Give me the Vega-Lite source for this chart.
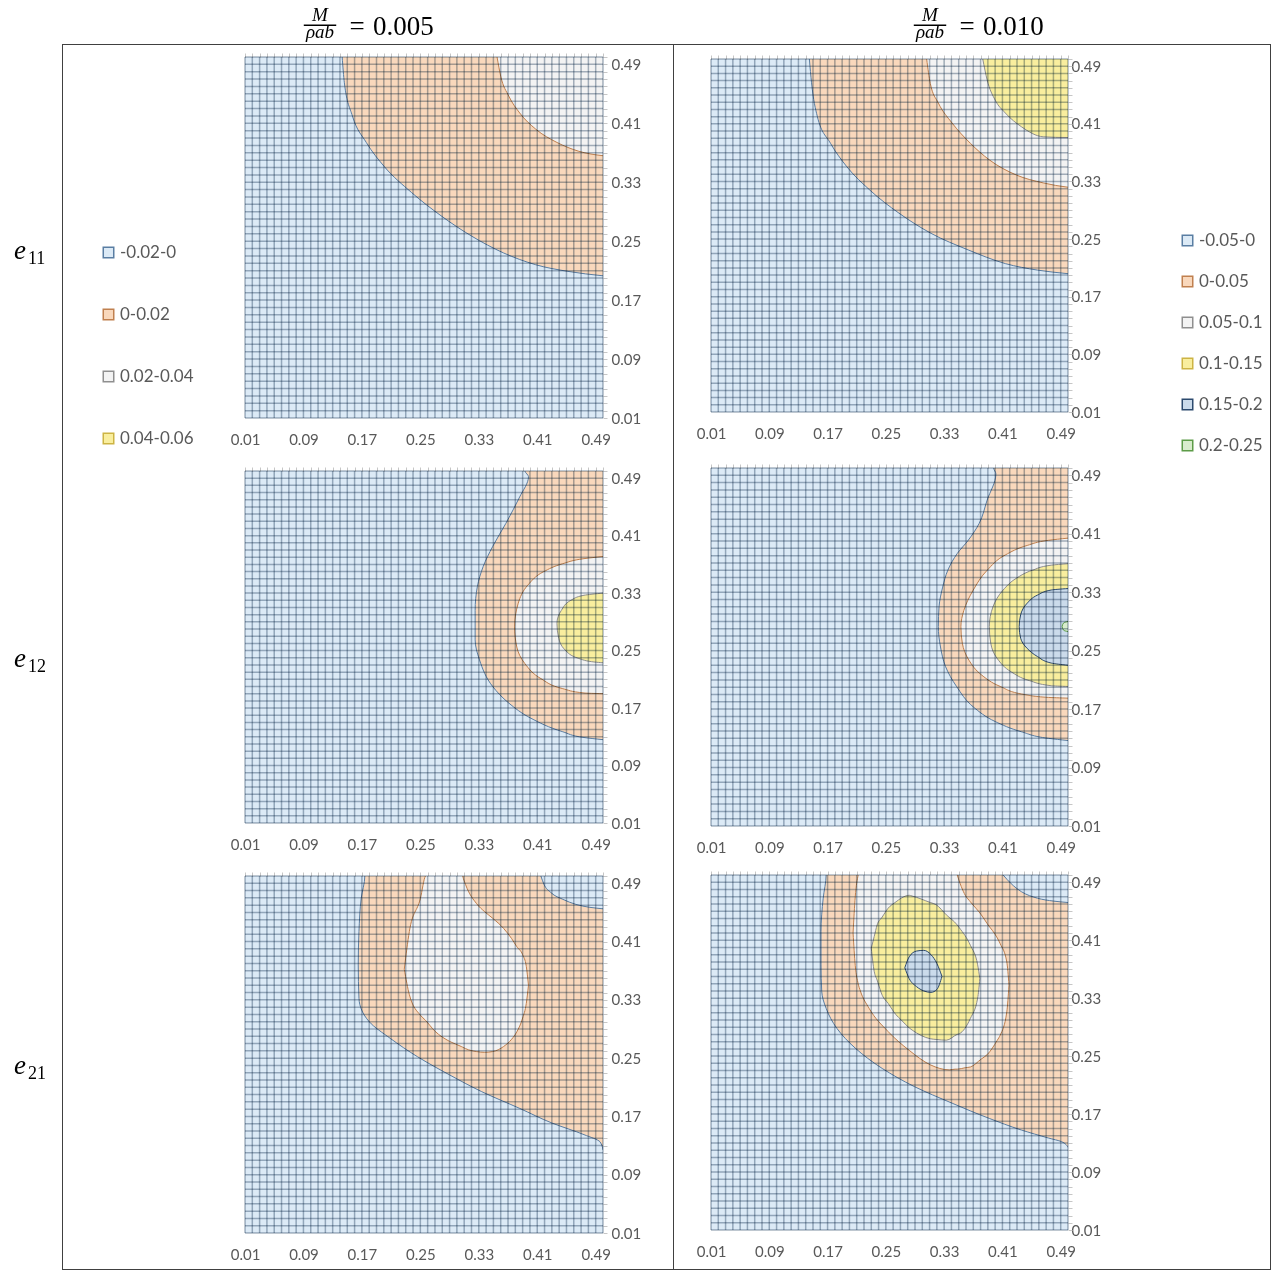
{
"$schema":"https://vega.github.io/schema/vega-lite/v6.json",
"background":"white",
"padding":0,
"config":{
 "view":{"stroke":null},
 "font":"Lato",
 "axis":{"labelFont":"Lato","labelFontSize":15,"labelColor":"#595959","domain":false,"grid":false,"ticks":false,"labelFlush":false,"labelOverlap":false},
 "legend":{"symbolType":"square","symbolSize":110,"symbolStrokeWidth":1.5,"labelFontSize":17,"labelColor":"#595959","labelFont":"Lato","labelOffset":3,"padding":0}
},
"datasets":{
"g":[{"g":0.01},{"g":0.02},{"g":0.03},{"g":0.04},{"g":0.05},{"g":0.06},{"g":0.07},{"g":0.08},{"g":0.09},{"g":0.1},{"g":0.11},{"g":0.12},{"g":0.13},{"g":0.14},{"g":0.15},{"g":0.16},{"g":0.17},{"g":0.18},{"g":0.19},{"g":0.2},{"g":0.21},{"g":0.22},{"g":0.23},{"g":0.24},{"g":0.25},{"g":0.26},{"g":0.27},{"g":0.28},{"g":0.29},{"g":0.3},{"g":0.31},{"g":0.32},{"g":0.33},{"g":0.34},{"g":0.35},{"g":0.36},{"g":0.37},{"g":0.38},{"g":0.39},{"g":0.4},{"g":0.41},{"g":0.42},{"g":0.43},{"g":0.44},{"g":0.45},{"g":0.46},{"g":0.47},{"g":0.48},{"g":0.49},{"g":0.5}],
"c":[
{"p":"L1","s":1,"l":"0-0.02","c":"-0.02-0","x":0.143,"y":0.5,"y2":0.51},
{"p":"L1","s":1,"l":"0-0.02","c":"-0.02-0","x":0.146,"y":0.465,"y2":0.51},
{"p":"L1","s":1,"l":"0-0.02","c":"-0.02-0","x":0.157,"y":0.42,"y2":0.51},
{"p":"L1","s":1,"l":"0-0.02","c":"-0.02-0","x":0.176,"y":0.384,"y2":0.51},
{"p":"L1","s":1,"l":"0-0.02","c":"-0.02-0","x":0.2,"y":0.352,"y2":0.51},
{"p":"L1","s":1,"l":"0-0.02","c":"-0.02-0","x":0.238,"y":0.316,"y2":0.51},
{"p":"L1","s":1,"l":"0-0.02","c":"-0.02-0","x":0.279,"y":0.284,"y2":0.51},
{"p":"L1","s":1,"l":"0-0.02","c":"-0.02-0","x":0.32,"y":0.257,"y2":0.51},
{"p":"L1","s":1,"l":"0-0.02","c":"-0.02-0","x":0.364,"y":0.234,"y2":0.51},
{"p":"L1","s":1,"l":"0-0.02","c":"-0.02-0","x":0.408,"y":0.218,"y2":0.51},
{"p":"L1","s":1,"l":"0-0.02","c":"-0.02-0","x":0.452,"y":0.209,"y2":0.51},
{"p":"L1","s":1,"l":"0-0.02","c":"-0.02-0","x":0.5,"y":0.203,"y2":0.51},
{"p":"L1","s":1,"l":"0-0.02","c":"-0.02-0","x":0.51,"y":0.202,"y2":0.51},
{"p":"L1","s":2,"l":"0.02-0.04","c":"0-0.02","x":0.355,"y":0.5,"y2":0.51},
{"p":"L1","s":2,"l":"0.02-0.04","c":"0-0.02","x":0.36,"y":0.474,"y2":0.51},
{"p":"L1","s":2,"l":"0.02-0.04","c":"0-0.02","x":0.371,"y":0.447,"y2":0.51},
{"p":"L1","s":2,"l":"0.02-0.04","c":"0-0.02","x":0.386,"y":0.424,"y2":0.51},
{"p":"L1","s":2,"l":"0.02-0.04","c":"0-0.02","x":0.408,"y":0.402,"y2":0.51},
{"p":"L1","s":2,"l":"0.02-0.04","c":"0-0.02","x":0.437,"y":0.384,"y2":0.51},
{"p":"L1","s":2,"l":"0.02-0.04","c":"0-0.02","x":0.467,"y":0.372,"y2":0.51},
{"p":"L1","s":2,"l":"0.02-0.04","c":"0-0.02","x":0.5,"y":0.366,"y2":0.51},
{"p":"L1","s":2,"l":"0.02-0.04","c":"0-0.02","x":0.51,"y":0.365,"y2":0.51},

{"p":"R1","s":1,"l":"0-0.05","c":"-0.05-0","x":0.145,"y":0.5,"y2":0.51},
{"p":"R1","s":1,"l":"0-0.05","c":"-0.05-0","x":0.148,"y":0.467,"y2":0.51},
{"p":"R1","s":1,"l":"0-0.05","c":"-0.05-0","x":0.156,"y":0.42,"y2":0.51},
{"p":"R1","s":1,"l":"0-0.05","c":"-0.05-0","x":0.174,"y":0.383,"y2":0.51},
{"p":"R1","s":1,"l":"0-0.05","c":"-0.05-0","x":0.196,"y":0.351,"y2":0.51},
{"p":"R1","s":1,"l":"0-0.05","c":"-0.05-0","x":0.228,"y":0.318,"y2":0.51},
{"p":"R1","s":1,"l":"0-0.05","c":"-0.05-0","x":0.268,"y":0.286,"y2":0.51},
{"p":"R1","s":1,"l":"0-0.05","c":"-0.05-0","x":0.312,"y":0.258,"y2":0.51},
{"p":"R1","s":1,"l":"0-0.05","c":"-0.05-0","x":0.363,"y":0.235,"y2":0.51},
{"p":"R1","s":1,"l":"0-0.05","c":"-0.05-0","x":0.414,"y":0.216,"y2":0.51},
{"p":"R1","s":1,"l":"0-0.05","c":"-0.05-0","x":0.458,"y":0.207,"y2":0.51},
{"p":"R1","s":1,"l":"0-0.05","c":"-0.05-0","x":0.5,"y":0.202,"y2":0.51},
{"p":"R1","s":1,"l":"0-0.05","c":"-0.05-0","x":0.51,"y":0.201,"y2":0.51},
{"p":"R1","s":2,"l":"0.05-0.1","c":"0-0.05","x":0.306,"y":0.5,"y2":0.51},
{"p":"R1","s":2,"l":"0.05-0.1","c":"0-0.05","x":0.311,"y":0.466,"y2":0.51},
{"p":"R1","s":2,"l":"0.05-0.1","c":"0-0.05","x":0.322,"y":0.439,"y2":0.51},
{"p":"R1","s":2,"l":"0.05-0.1","c":"0-0.05","x":0.341,"y":0.411,"y2":0.51},
{"p":"R1","s":2,"l":"0.05-0.1","c":"0-0.05","x":0.366,"y":0.383,"y2":0.51},
{"p":"R1","s":2,"l":"0.05-0.1","c":"0-0.05","x":0.392,"y":0.36,"y2":0.51},
{"p":"R1","s":2,"l":"0.05-0.1","c":"0-0.05","x":0.429,"y":0.339,"y2":0.51},
{"p":"R1","s":2,"l":"0.05-0.1","c":"0-0.05","x":0.466,"y":0.328,"y2":0.51},
{"p":"R1","s":2,"l":"0.05-0.1","c":"0-0.05","x":0.5,"y":0.322,"y2":0.51},
{"p":"R1","s":2,"l":"0.05-0.1","c":"0-0.05","x":0.51,"y":0.321,"y2":0.51},
{"p":"R1","s":3,"l":"0.1-0.15","c":"0.05-0.1","x":0.383,"y":0.5,"y2":0.51},
{"p":"R1","s":3,"l":"0.1-0.15","c":"0.05-0.1","x":0.389,"y":0.471,"y2":0.51},
{"p":"R1","s":3,"l":"0.1-0.15","c":"0.05-0.1","x":0.4,"y":0.443,"y2":0.51},
{"p":"R1","s":3,"l":"0.1-0.15","c":"0.05-0.1","x":0.414,"y":0.425,"y2":0.51},
{"p":"R1","s":3,"l":"0.1-0.15","c":"0.05-0.1","x":0.436,"y":0.406,"y2":0.51},
{"p":"R1","s":3,"l":"0.1-0.15","c":"0.05-0.1","x":0.466,"y":0.392,"y2":0.51},
{"p":"R1","s":3,"l":"0.1-0.15","c":"0.05-0.1","x":0.5,"y":0.391,"y2":0.51},
{"p":"R1","s":3,"l":"0.1-0.15","c":"0.05-0.1","x":0.51,"y":0.391,"y2":0.51},

{"p":"L2","s":1,"l":"0-0.02","c":"-0.02-0","y":0.126,"x":0.5,"x2":0.51},
{"p":"L2","s":1,"l":"0-0.02","c":"-0.02-0","y":0.129,"x":0.474,"x2":0.51},
{"p":"L2","s":1,"l":"0-0.02","c":"-0.02-0","y":0.137,"x":0.445,"x2":0.51},
{"p":"L2","s":1,"l":"0-0.02","c":"-0.02-0","y":0.156,"x":0.401,"x2":0.51},
{"p":"L2","s":1,"l":"0-0.02","c":"-0.02-0","y":0.177,"x":0.371,"x2":0.51},
{"p":"L2","s":1,"l":"0-0.02","c":"-0.02-0","y":0.2,"x":0.349,"x2":0.51},
{"p":"L2","s":1,"l":"0-0.02","c":"-0.02-0","y":0.237,"x":0.331,"x2":0.51},
{"p":"L2","s":1,"l":"0-0.02","c":"-0.02-0","y":0.265,"x":0.325,"x2":0.51},
{"p":"L2","s":1,"l":"0-0.02","c":"-0.02-0","y":0.306,"x":0.325,"x2":0.51},
{"p":"L2","s":1,"l":"0-0.02","c":"-0.02-0","y":0.339,"x":0.328,"x2":0.51},
{"p":"L2","s":1,"l":"0-0.02","c":"-0.02-0","y":0.367,"x":0.336,"x2":0.51},
{"p":"L2","s":1,"l":"0-0.02","c":"-0.02-0","y":0.395,"x":0.349,"x2":0.51},
{"p":"L2","s":1,"l":"0-0.02","c":"-0.02-0","y":0.427,"x":0.367,"x2":0.51},
{"p":"L2","s":1,"l":"0-0.02","c":"-0.02-0","y":0.446,"x":0.377,"x2":0.51},
{"p":"L2","s":1,"l":"0-0.02","c":"-0.02-0","y":0.464,"x":0.386,"x2":0.51},
{"p":"L2","s":1,"l":"0-0.02","c":"-0.02-0","y":0.492,"x":0.398,"x2":0.51},
{"p":"L2","s":1,"l":"0-0.02","c":"-0.02-0","y":0.5,"x":0.393,"x2":0.51},
{"p":"L2","s":1,"l":"0-0.02","c":"-0.02-0","y":0.51,"x":0.392,"x2":0.51},
{"p":"L2","s":2,"l":"0.02-0.04","c":"0-0.02","y":0.19,"x":0.5,"x2":0.51},
{"p":"L2","s":2,"l":"0.02-0.04","c":"0-0.02","y":0.191,"x":0.474,"x2":0.51},
{"p":"L2","s":2,"l":"0.02-0.04","c":"0-0.02","y":0.197,"x":0.445,"x2":0.51},
{"p":"L2","s":2,"l":"0.02-0.04","c":"0-0.02","y":0.211,"x":0.415,"x2":0.51},
{"p":"L2","s":2,"l":"0.02-0.04","c":"0-0.02","y":0.232,"x":0.393,"x2":0.51},
{"p":"L2","s":2,"l":"0.02-0.04","c":"0-0.02","y":0.255,"x":0.382,"x2":0.51},
{"p":"L2","s":2,"l":"0.02-0.04","c":"0-0.02","y":0.283,"x":0.379,"x2":0.51},
{"p":"L2","s":2,"l":"0.02-0.04","c":"0-0.02","y":0.316,"x":0.384,"x2":0.51},
{"p":"L2","s":2,"l":"0.02-0.04","c":"0-0.02","y":0.341,"x":0.397,"x2":0.51},
{"p":"L2","s":2,"l":"0.02-0.04","c":"0-0.02","y":0.36,"x":0.419,"x2":0.51},
{"p":"L2","s":2,"l":"0.02-0.04","c":"0-0.02","y":0.371,"x":0.445,"x2":0.51},
{"p":"L2","s":2,"l":"0.02-0.04","c":"0-0.02","y":0.378,"x":0.474,"x2":0.51},
{"p":"L2","s":2,"l":"0.02-0.04","c":"0-0.02","y":0.381,"x":0.5,"x2":0.51},
{"p":"L2","s":3,"l":"0.04-0.06","c":"0.02-0.04","y":0.233,"x":0.5,"x2":0.51},
{"p":"L2","s":3,"l":"0.04-0.06","c":"0.02-0.04","y":0.234,"x":0.489,"x2":0.51},
{"p":"L2","s":3,"l":"0.04-0.06","c":"0.02-0.04","y":0.239,"x":0.467,"x2":0.51},
{"p":"L2","s":3,"l":"0.04-0.06","c":"0.02-0.04","y":0.251,"x":0.448,"x2":0.51},
{"p":"L2","s":3,"l":"0.04-0.06","c":"0.02-0.04","y":0.269,"x":0.439,"x2":0.51},
{"p":"L2","s":3,"l":"0.04-0.06","c":"0.02-0.04","y":0.288,"x":0.437,"x2":0.51},
{"p":"L2","s":3,"l":"0.04-0.06","c":"0.02-0.04","y":0.306,"x":0.443,"x2":0.51},
{"p":"L2","s":3,"l":"0.04-0.06","c":"0.02-0.04","y":0.32,"x":0.456,"x2":0.51},
{"p":"L2","s":3,"l":"0.04-0.06","c":"0.02-0.04","y":0.327,"x":0.474,"x2":0.51},
{"p":"L2","s":3,"l":"0.04-0.06","c":"0.02-0.04","y":0.33,"x":0.5,"x2":0.51},

{"p":"R2","s":1,"l":"0-0.05","c":"-0.05-0","y":0.127,"x":0.5,"x2":0.51},
{"p":"R2","s":1,"l":"0-0.05","c":"-0.05-0","y":0.13,"x":0.473,"x2":0.51},
{"p":"R2","s":1,"l":"0-0.05","c":"-0.05-0","y":0.139,"x":0.436,"x2":0.51},
{"p":"R2","s":1,"l":"0-0.05","c":"-0.05-0","y":0.153,"x":0.4,"x2":0.51},
{"p":"R2","s":1,"l":"0-0.05","c":"-0.05-0","y":0.173,"x":0.37,"x2":0.51},
{"p":"R2","s":1,"l":"0-0.05","c":"-0.05-0","y":0.201,"x":0.347,"x2":0.51},
{"p":"R2","s":1,"l":"0-0.05","c":"-0.05-0","y":0.228,"x":0.332,"x2":0.51},
{"p":"R2","s":1,"l":"0-0.05","c":"-0.05-0","y":0.255,"x":0.325,"x2":0.51},
{"p":"R2","s":1,"l":"0-0.05","c":"-0.05-0","y":0.283,"x":0.322,"x2":0.51},
{"p":"R2","s":1,"l":"0-0.05","c":"-0.05-0","y":0.31,"x":0.323,"x2":0.51},
{"p":"R2","s":1,"l":"0-0.05","c":"-0.05-0","y":0.337,"x":0.328,"x2":0.51},
{"p":"R2","s":1,"l":"0-0.05","c":"-0.05-0","y":0.36,"x":0.335,"x2":0.51},
{"p":"R2","s":1,"l":"0-0.05","c":"-0.05-0","y":0.383,"x":0.348,"x2":0.51},
{"p":"R2","s":1,"l":"0-0.05","c":"-0.05-0","y":0.401,"x":0.363,"x2":0.51},
{"p":"R2","s":1,"l":"0-0.05","c":"-0.05-0","y":0.424,"x":0.378,"x2":0.51},
{"p":"R2","s":1,"l":"0-0.05","c":"-0.05-0","y":0.456,"x":0.389,"x2":0.51},
{"p":"R2","s":1,"l":"0-0.05","c":"-0.05-0","y":0.492,"x":0.401,"x2":0.51},
{"p":"R2","s":1,"l":"0-0.05","c":"-0.05-0","y":0.5,"x":0.398,"x2":0.51},
{"p":"R2","s":1,"l":"0-0.05","c":"-0.05-0","y":0.51,"x":0.398,"x2":0.51},
{"p":"R2","s":2,"l":"0.05-0.1","c":"0-0.05","y":0.185,"x":0.5,"x2":0.51},
{"p":"R2","s":2,"l":"0.05-0.1","c":"0-0.05","y":0.186,"x":0.473,"x2":0.51},
{"p":"R2","s":2,"l":"0.05-0.1","c":"0-0.05","y":0.19,"x":0.44,"x2":0.51},
{"p":"R2","s":2,"l":"0.05-0.1","c":"0-0.05","y":0.201,"x":0.407,"x2":0.51},
{"p":"R2","s":2,"l":"0.05-0.1","c":"0-0.05","y":0.217,"x":0.381,"x2":0.51},
{"p":"R2","s":2,"l":"0.05-0.1","c":"0-0.05","y":0.237,"x":0.364,"x2":0.51},
{"p":"R2","s":2,"l":"0.05-0.1","c":"0-0.05","y":0.26,"x":0.355,"x2":0.51},
{"p":"R2","s":2,"l":"0.05-0.1","c":"0-0.05","y":0.283,"x":0.353,"x2":0.51},
{"p":"R2","s":2,"l":"0.05-0.1","c":"0-0.05","y":0.305,"x":0.357,"x2":0.51},
{"p":"R2","s":2,"l":"0.05-0.1","c":"0-0.05","y":0.333,"x":0.37,"x2":0.51},
{"p":"R2","s":2,"l":"0.05-0.1","c":"0-0.05","y":0.36,"x":0.389,"x2":0.51},
{"p":"R2","s":2,"l":"0.05-0.1","c":"0-0.05","y":0.381,"x":0.414,"x2":0.51},
{"p":"R2","s":2,"l":"0.05-0.1","c":"0-0.05","y":0.394,"x":0.444,"x2":0.51},
{"p":"R2","s":2,"l":"0.05-0.1","c":"0-0.05","y":0.401,"x":0.473,"x2":0.51},
{"p":"R2","s":2,"l":"0.05-0.1","c":"0-0.05","y":0.404,"x":0.5,"x2":0.51},
{"p":"R2","s":3,"l":"0.1-0.15","c":"0.05-0.1","y":0.201,"x":0.5,"x2":0.51},
{"p":"R2","s":3,"l":"0.1-0.15","c":"0.05-0.1","y":0.202,"x":0.477,"x2":0.51},
{"p":"R2","s":3,"l":"0.1-0.15","c":"0.05-0.1","y":0.209,"x":0.447,"x2":0.51},
{"p":"R2","s":3,"l":"0.1-0.15","c":"0.05-0.1","y":0.221,"x":0.422,"x2":0.51},
{"p":"R2","s":3,"l":"0.1-0.15","c":"0.05-0.1","y":0.239,"x":0.403,"x2":0.51},
{"p":"R2","s":3,"l":"0.1-0.15","c":"0.05-0.1","y":0.26,"x":0.394,"x2":0.51},
{"p":"R2","s":3,"l":"0.1-0.15","c":"0.05-0.1","y":0.283,"x":0.392,"x2":0.51},
{"p":"R2","s":3,"l":"0.1-0.15","c":"0.05-0.1","y":0.31,"x":0.397,"x2":0.51},
{"p":"R2","s":3,"l":"0.1-0.15","c":"0.05-0.1","y":0.333,"x":0.411,"x2":0.51},
{"p":"R2","s":3,"l":"0.1-0.15","c":"0.05-0.1","y":0.349,"x":0.429,"x2":0.51},
{"p":"R2","s":3,"l":"0.1-0.15","c":"0.05-0.1","y":0.36,"x":0.451,"x2":0.51},
{"p":"R2","s":3,"l":"0.1-0.15","c":"0.05-0.1","y":0.367,"x":0.477,"x2":0.51},
{"p":"R2","s":3,"l":"0.1-0.15","c":"0.05-0.1","y":0.369,"x":0.5,"x2":0.51},
{"p":"R2","s":4,"l":"0.15-0.2","c":"0.15-0.2","y":0.23,"x":0.5,"x2":0.51},
{"p":"R2","s":4,"l":"0.15-0.2","c":"0.15-0.2","y":0.233,"x":0.477,"x2":0.51},
{"p":"R2","s":4,"l":"0.15-0.2","c":"0.15-0.2","y":0.242,"x":0.458,"x2":0.51},
{"p":"R2","s":4,"l":"0.15-0.2","c":"0.15-0.2","y":0.253,"x":0.444,"x2":0.51},
{"p":"R2","s":4,"l":"0.15-0.2","c":"0.15-0.2","y":0.267,"x":0.435,"x2":0.51},
{"p":"R2","s":4,"l":"0.15-0.2","c":"0.15-0.2","y":0.283,"x":0.433,"x2":0.51},
{"p":"R2","s":4,"l":"0.15-0.2","c":"0.15-0.2","y":0.299,"x":0.435,"x2":0.51},
{"p":"R2","s":4,"l":"0.15-0.2","c":"0.15-0.2","y":0.315,"x":0.444,"x2":0.51},
{"p":"R2","s":4,"l":"0.15-0.2","c":"0.15-0.2","y":0.326,"x":0.458,"x2":0.51},
{"p":"R2","s":4,"l":"0.15-0.2","c":"0.15-0.2","y":0.333,"x":0.477,"x2":0.51},
{"p":"R2","s":4,"l":"0.15-0.2","c":"0.15-0.2","y":0.335,"x":0.5,"x2":0.51},
{"p":"R2","s":5,"l":"0.2-0.25","c":"0.2-0.25","y":0.276,"x":0.5,"x2":0.51},
{"p":"R2","s":5,"l":"0.2-0.25","c":"0.2-0.25","y":0.278,"x":0.494,"x2":0.51},
{"p":"R2","s":5,"l":"0.2-0.25","c":"0.2-0.25","y":0.283,"x":0.492,"x2":0.51},
{"p":"R2","s":5,"l":"0.2-0.25","c":"0.2-0.25","y":0.288,"x":0.494,"x2":0.51},
{"p":"R2","s":5,"l":"0.2-0.25","c":"0.2-0.25","y":0.29,"x":0.5,"x2":0.51},

{"p":"L3","s":1,"l":"0-0.02","c":"-0.02-0","y":0.124,"x":0.5,"x2":0.51},
{"p":"L3","s":1,"l":"0-0.02","c":"-0.02-0","y":0.135,"x":0.496,"x2":0.51},
{"p":"L3","s":1,"l":"0-0.02","c":"-0.02-0","y":0.145,"x":0.474,"x2":0.51},
{"p":"L3","s":1,"l":"0-0.02","c":"-0.02-0","y":0.161,"x":0.43,"x2":0.51},
{"p":"L3","s":1,"l":"0-0.02","c":"-0.02-0","y":0.181,"x":0.386,"x2":0.51},
{"p":"L3","s":1,"l":"0-0.02","c":"-0.02-0","y":0.204,"x":0.334,"x2":0.51},
{"p":"L3","s":1,"l":"0-0.02","c":"-0.02-0","y":0.227,"x":0.29,"x2":0.51},
{"p":"L3","s":1,"l":"0-0.02","c":"-0.02-0","y":0.252,"x":0.246,"x2":0.51},
{"p":"L3","s":1,"l":"0-0.02","c":"-0.02-0","y":0.277,"x":0.209,"x2":0.51},
{"p":"L3","s":1,"l":"0-0.02","c":"-0.02-0","y":0.3,"x":0.18,"x2":0.51},
{"p":"L3","s":1,"l":"0-0.02","c":"-0.02-0","y":0.332,"x":0.166,"x2":0.51},
{"p":"L3","s":1,"l":"0-0.02","c":"-0.02-0","y":0.378,"x":0.165,"x2":0.51},
{"p":"L3","s":1,"l":"0-0.02","c":"-0.02-0","y":0.424,"x":0.166,"x2":0.51},
{"p":"L3","s":1,"l":"0-0.02","c":"-0.02-0","y":0.469,"x":0.169,"x2":0.51},
{"p":"L3","s":1,"l":"0-0.02","c":"-0.02-0","y":0.5,"x":0.174,"x2":0.51},
{"p":"L3","s":1,"l":"0-0.02","c":"-0.02-0","y":0.51,"x":0.174,"x2":0.51},
{"p":"L3","s":2,"l":"0.02-0.04","c":"0-0.02","x":0.228,"y":0.372,"y2":0.372},
{"p":"L3","s":2,"l":"0.02-0.04","c":"0-0.02","x":0.235,"y":0.337,"y2":0.424},
{"p":"L3","s":2,"l":"0.02-0.04","c":"0-0.02","x":0.25,"y":0.309,"y2":0.469},
{"p":"L3","s":2,"l":"0.02-0.04","c":"0-0.02","x":0.257,"y":0.302,"y2":0.5},
{"p":"L3","s":2,"l":"0.02-0.04","c":"0-0.02","x":0.27,"y":0.287,"y2":0.51},
{"p":"L3","s":2,"l":"0.02-0.04","c":"0-0.02","x":0.29,"y":0.273,"y2":0.51},
{"p":"L3","s":2,"l":"0.02-0.04","c":"0-0.02","x":0.306,"y":0.266,"y2":0.51},
{"p":"L3","s":2,"l":"0.02-0.04","c":"0-0.02","x":0.308,"y":0.265,"y2":0.5},
{"p":"L3","s":2,"l":"0.02-0.04","c":"0-0.02","x":0.312,"y":0.263,"y2":0.488},
{"p":"L3","s":2,"l":"0.02-0.04","c":"0-0.02","x":0.327,"y":0.259,"y2":0.462},
{"p":"L3","s":2,"l":"0.02-0.04","c":"0-0.02","x":0.338,"y":0.258,"y2":0.451},
{"p":"L3","s":2,"l":"0.02-0.04","c":"0-0.02","x":0.349,"y":0.259,"y2":0.442},
{"p":"L3","s":2,"l":"0.02-0.04","c":"0-0.02","x":0.364,"y":0.266,"y2":0.428},
{"p":"L3","s":2,"l":"0.02-0.04","c":"0-0.02","x":0.375,"y":0.276,"y2":0.414},
{"p":"L3","s":2,"l":"0.02-0.04","c":"0-0.02","x":0.382,"y":0.286,"y2":0.403},
{"p":"L3","s":2,"l":"0.02-0.04","c":"0-0.02","x":0.39,"y":0.305,"y2":0.392},
{"p":"L3","s":2,"l":"0.02-0.04","c":"0-0.02","x":0.395,"y":0.325,"y2":0.376},
{"p":"L3","s":2,"l":"0.02-0.04","c":"0-0.02","x":0.398,"y":0.35,"y2":0.35},
{"p":"L3","s":3,"l":"-0.02-0","c":"-0.02-0","x":0.415,"y":0.5,"y2":0.51},
{"p":"L3","s":3,"l":"-0.02-0","c":"-0.02-0","x":0.419,"y":0.489,"y2":0.51},
{"p":"L3","s":3,"l":"-0.02-0","c":"-0.02-0","x":0.429,"y":0.477,"y2":0.51},
{"p":"L3","s":3,"l":"-0.02-0","c":"-0.02-0","x":0.445,"y":0.468,"y2":0.51},
{"p":"L3","s":3,"l":"-0.02-0","c":"-0.02-0","x":0.463,"y":0.461,"y2":0.51},
{"p":"L3","s":3,"l":"-0.02-0","c":"-0.02-0","x":0.482,"y":0.457,"y2":0.51},
{"p":"L3","s":3,"l":"-0.02-0","c":"-0.02-0","x":0.5,"y":0.455,"y2":0.51},
{"p":"L3","s":3,"l":"-0.02-0","c":"-0.02-0","x":0.51,"y":0.454,"y2":0.51},

{"p":"R3","s":1,"l":"0-0.05","c":"-0.05-0","y":0.124,"x":0.5,"x2":0.51},
{"p":"R3","s":1,"l":"0-0.05","c":"-0.05-0","y":0.132,"x":0.491,"x2":0.51},
{"p":"R3","s":1,"l":"0-0.05","c":"-0.05-0","y":0.137,"x":0.473,"x2":0.51},
{"p":"R3","s":1,"l":"0-0.05","c":"-0.05-0","y":0.148,"x":0.436,"x2":0.51},
{"p":"R3","s":1,"l":"0-0.05","c":"-0.05-0","y":0.164,"x":0.392,"x2":0.51},
{"p":"R3","s":1,"l":"0-0.05","c":"-0.05-0","y":0.185,"x":0.341,"x2":0.51},
{"p":"R3","s":1,"l":"0-0.05","c":"-0.05-0","y":0.208,"x":0.289,"x2":0.51},
{"p":"R3","s":1,"l":"0-0.05","c":"-0.05-0","y":0.233,"x":0.245,"x2":0.51},
{"p":"R3","s":1,"l":"0-0.05","c":"-0.05-0","y":0.261,"x":0.208,"x2":0.51},
{"p":"R3","s":1,"l":"0-0.05","c":"-0.05-0","y":0.288,"x":0.183,"x2":0.51},
{"p":"R3","s":1,"l":"0-0.05","c":"-0.05-0","y":0.316,"x":0.168,"x2":0.51},
{"p":"R3","s":1,"l":"0-0.05","c":"-0.05-0","y":0.339,"x":0.162,"x2":0.51},
{"p":"R3","s":1,"l":"0-0.05","c":"-0.05-0","y":0.376,"x":0.161,"x2":0.51},
{"p":"R3","s":1,"l":"0-0.05","c":"-0.05-0","y":0.422,"x":0.161,"x2":0.51},
{"p":"R3","s":1,"l":"0-0.05","c":"-0.05-0","y":0.468,"x":0.164,"x2":0.51},
{"p":"R3","s":1,"l":"0-0.05","c":"-0.05-0","y":0.5,"x":0.168,"x2":0.51},
{"p":"R3","s":1,"l":"0-0.05","c":"-0.05-0","y":0.51,"x":0.168,"x2":0.51},
{"p":"R3","s":2,"l":"0.05-0.1","c":"0-0.05","x":0.205,"y":0.42,"y2":0.42},
{"p":"R3","s":2,"l":"0.05-0.1","c":"0-0.05","x":0.208,"y":0.375,"y2":0.47},
{"p":"R3","s":2,"l":"0.05-0.1","c":"0-0.05","x":0.212,"y":0.35,"y2":0.5},
{"p":"R3","s":2,"l":"0.05-0.1","c":"0-0.05","x":0.215,"y":0.34,"y2":0.51},
{"p":"R3","s":2,"l":"0.05-0.1","c":"0-0.05","x":0.227,"y":0.316,"y2":0.51},
{"p":"R3","s":2,"l":"0.05-0.1","c":"0-0.05","x":0.253,"y":0.284,"y2":0.51},
{"p":"R3","s":2,"l":"0.05-0.1","c":"0-0.05","x":0.282,"y":0.258,"y2":0.51},
{"p":"R3","s":2,"l":"0.05-0.1","c":"0-0.05","x":0.311,"y":0.238,"y2":0.51},
{"p":"R3","s":2,"l":"0.05-0.1","c":"0-0.05","x":0.337,"y":0.231,"y2":0.51},
{"p":"R3","s":2,"l":"0.05-0.1","c":"0-0.05","x":0.345,"y":0.232,"y2":0.51},
{"p":"R3","s":2,"l":"0.05-0.1","c":"0-0.05","x":0.348,"y":0.232,"y2":0.5},
{"p":"R3","s":2,"l":"0.05-0.1","c":"0-0.05","x":0.359,"y":0.234,"y2":0.472},
{"p":"R3","s":2,"l":"0.05-0.1","c":"0-0.05","x":0.366,"y":0.235,"y2":0.463},
{"p":"R3","s":2,"l":"0.05-0.1","c":"0-0.05","x":0.381,"y":0.246,"y2":0.445},
{"p":"R3","s":2,"l":"0.05-0.1","c":"0-0.05","x":0.389,"y":0.252,"y2":0.433},
{"p":"R3","s":2,"l":"0.05-0.1","c":"0-0.05","x":0.403,"y":0.272,"y2":0.413},
{"p":"R3","s":2,"l":"0.05-0.1","c":"0-0.05","x":0.407,"y":0.279,"y2":0.405},
{"p":"R3","s":2,"l":"0.05-0.1","c":"0-0.05","x":0.416,"y":0.311,"y2":0.38},
{"p":"R3","s":2,"l":"0.05-0.1","c":"0-0.05","x":0.419,"y":0.348,"y2":0.348},
{"p":"R3","s":3,"l":"0.1-0.15","c":"0.05-0.1","x":0.23,"y":0.399,"y2":0.399},
{"p":"R3","s":3,"l":"0.1-0.15","c":"0.05-0.1","x":0.234,"y":0.367,"y2":0.415},
{"p":"R3","s":3,"l":"0.1-0.15","c":"0.05-0.1","x":0.238,"y":0.355,"y2":0.431},
{"p":"R3","s":3,"l":"0.1-0.15","c":"0.05-0.1","x":0.245,"y":0.334,"y2":0.442},
{"p":"R3","s":3,"l":"0.1-0.15","c":"0.05-0.1","x":0.253,"y":0.323,"y2":0.454},
{"p":"R3","s":3,"l":"0.1-0.15","c":"0.05-0.1","x":0.264,"y":0.307,"y2":0.463},
{"p":"R3","s":3,"l":"0.1-0.15","c":"0.05-0.1","x":0.271,"y":0.3,"y2":0.468},
{"p":"R3","s":3,"l":"0.1-0.15","c":"0.05-0.1","x":0.282,"y":0.289,"y2":0.472},
{"p":"R3","s":3,"l":"0.1-0.15","c":"0.05-0.1","x":0.286,"y":0.286,"y2":0.471},
{"p":"R3","s":3,"l":"0.1-0.15","c":"0.05-0.1","x":0.311,"y":0.274,"y2":0.462},
{"p":"R3","s":3,"l":"0.1-0.15","c":"0.05-0.1","x":0.319,"y":0.273,"y2":0.459},
{"p":"R3","s":3,"l":"0.1-0.15","c":"0.05-0.1","x":0.333,"y":0.272,"y2":0.445},
{"p":"R3","s":3,"l":"0.1-0.15","c":"0.05-0.1","x":0.348,"y":0.28,"y2":0.431},
{"p":"R3","s":3,"l":"0.1-0.15","c":"0.05-0.1","x":0.351,"y":0.281,"y2":0.427},
{"p":"R3","s":3,"l":"0.1-0.15","c":"0.05-0.1","x":0.366,"y":0.302,"y2":0.403},
{"p":"R3","s":3,"l":"0.1-0.15","c":"0.05-0.1","x":0.376,"y":0.33,"y2":0.376},
{"p":"R3","s":3,"l":"0.1-0.15","c":"0.05-0.1","x":0.379,"y":0.357,"y2":0.357},
{"p":"R3","s":4,"l":"0.15-0.2","c":"0.15-0.2","x":0.276,"y":0.372,"y2":0.372},
{"p":"R3","s":4,"l":"0.15-0.2","c":"0.15-0.2","x":0.282,"y":0.357,"y2":0.387},
{"p":"R3","s":4,"l":"0.15-0.2","c":"0.15-0.2","x":0.292,"y":0.346,"y2":0.395},
{"p":"R3","s":4,"l":"0.15-0.2","c":"0.15-0.2","x":0.302,"y":0.34,"y2":0.396},
{"p":"R3","s":4,"l":"0.15-0.2","c":"0.15-0.2","x":0.312,"y":0.338,"y2":0.39},
{"p":"R3","s":4,"l":"0.15-0.2","c":"0.15-0.2","x":0.32,"y":0.342,"y2":0.378},
{"p":"R3","s":4,"l":"0.15-0.2","c":"0.15-0.2","x":0.327,"y":0.36,"y2":0.36},
{"p":"R3","s":5,"l":"-0.05-0","c":"-0.05-0","x":0.411,"y":0.5,"y2":0.51},
{"p":"R3","s":5,"l":"-0.05-0","c":"-0.05-0","x":0.422,"y":0.488,"y2":0.51},
{"p":"R3","s":5,"l":"-0.05-0","c":"-0.05-0","x":0.436,"y":0.477,"y2":0.51},
{"p":"R3","s":5,"l":"-0.05-0","c":"-0.05-0","x":0.458,"y":0.468,"y2":0.51},
{"p":"R3","s":5,"l":"-0.05-0","c":"-0.05-0","x":0.48,"y":0.464,"y2":0.51},
{"p":"R3","s":5,"l":"-0.05-0","c":"-0.05-0","x":0.5,"y":0.462,"y2":0.51},
{"p":"R3","s":5,"l":"-0.05-0","c":"-0.05-0","x":0.51,"y":0.461,"y2":0.51}
]},
"spacing":0,
"resolve":{"scale":{"fill":"independent","stroke":"independent"}},
"vconcat":[
{"spacing":0,"hconcat":[
  {"width":62,"height":44,"data":{"values":[]},"mark":"point"},
  {"width":611,"height":44,"data":{"values":[{}]},
   "layer":[
    {"mark":{"type":"text","font":"Liberation Serif","fontStyle":"italic","fontSize":19,"align":"center","baseline":"alphabetic","dx":-47.5,"dy":-1},"encoding":{"text":{"value":"M"}}},
    {"mark":{"type":"text","font":"Liberation Serif","fontSize":32,"align":"center","baseline":"alphabetic","dx":-47.5,"dy":11},"encoding":{"text":{"value":"—"}}},
    {"mark":{"type":"text","font":"Liberation Serif","fontStyle":"italic","fontSize":19,"align":"center","baseline":"alphabetic","dx":-47.5,"dy":16},"encoding":{"text":{"value":"ρab"}}},
    {"mark":{"type":"text","font":"Liberation Serif","fontSize":27,"align":"center","baseline":"alphabetic","dx":-10.5,"dy":13},"encoding":{"text":{"value":"="}}},
    {"mark":{"type":"text","font":"Liberation Serif","fontSize":27,"align":"left","baseline":"alphabetic","dx":5.5,"dy":13},"encoding":{"text":{"value":"0.005"}}}
   ]},
  {"width":597,"height":44,"data":{"values":[{}]},
   "layer":[
    {"mark":{"type":"text","font":"Liberation Serif","fontStyle":"italic","fontSize":19,"align":"center","baseline":"alphabetic","dx":-41.5,"dy":-1},"encoding":{"text":{"value":"M"}}},
    {"mark":{"type":"text","font":"Liberation Serif","fontSize":32,"align":"center","baseline":"alphabetic","dx":-41.5,"dy":11},"encoding":{"text":{"value":"—"}}},
    {"mark":{"type":"text","font":"Liberation Serif","fontStyle":"italic","fontSize":19,"align":"center","baseline":"alphabetic","dx":-41.5,"dy":16},"encoding":{"text":{"value":"ρab"}}},
    {"mark":{"type":"text","font":"Liberation Serif","fontSize":27,"align":"center","baseline":"alphabetic","dx":-4.5,"dy":13},"encoding":{"text":{"value":"="}}},
    {"mark":{"type":"text","font":"Liberation Serif","fontSize":27,"align":"left","baseline":"alphabetic","dx":11.5,"dy":13},"encoding":{"text":{"value":"0.010"}}}
   ]}
]},
{"spacing":0,
 "resolve":{"scale":{"fill":"independent","stroke":"independent"}},
 "hconcat":[
 {"width":62,"height":1226,"data":{"values":[{"k":"e11","sub":"11"},{"k":"e12","sub":"12"},{"k":"e21","sub":"21"}]},
  "encoding":{"y":{"field":"k","type":"nominal","sort":null,"axis":null,"scale":{"type":"point","padding":0.504,"align":0.509}}},
  "layer":[
   {"mark":{"type":"text","font":"Liberation Serif","fontStyle":"italic","fontSize":27,"align":"center","baseline":"alphabetic","dx":-11,"dy":6},"encoding":{"text":{"value":"e"}}},
   {"mark":{"type":"text","font":"Liberation Serif","fontSize":18,"align":"left","baseline":"alphabetic","dx":-3,"dy":11},"encoding":{"text":{"field":"sub"}}}
  ]},
 {"width":1,"height":1226,"view":{"fill":"#404040","stroke":null},"data":{"values":[]},"mark":"point"},
 {"spacing":0,
  "vconcat":[
   {"width":610,"height":1,"view":{"fill":"#404040","stroke":null},"data":{"values":[]},"mark":"point"},
   {"spacing":0,"hconcat":[
     {"width":167,"height":1224,"data":{"values":[]},"mark":"point"},
     {"spacing":0,"vconcat":[
       {"width":1,"height":7,"data":{"values":[]},"mark":"point"},
       {"spacing":19,"vconcat":[
        {"width":358,"height":361,"view":{"fill":"#dceaf6","stroke":null},
         "resolve":{"axis":{"x":"independent","y":"independent"}},
         "layer":[
          {"data":{"name":"c"},"transform":[{"filter":"datum.p==='L1' && datum.x2!=null"}],
           "mark":{"type":"area","orient":"horizontal","clip":true,"strokeWidth":1,"interpolate":"monotone"},
           "encoding":{
            "y":{"field":"y","type":"quantitative","stack":null,"scale":{"domain":[0.01,0.5],"nice":false,"zero":false},"axis":{"orient":"right","values":[0.01,0.09,0.17,0.25,0.33,0.41,0.49],"format":".2f","labelPadding":8,"title":null}},
            "x":{"field":"x","type":"quantitative","stack":null,"scale":{"domain":[0.01,0.5],"nice":false,"zero":false},"axis":{"values":[0.01,0.09,0.17,0.25,0.33,0.41,0.49],"format":".2f","labelPadding":14,"title":null}},
            "x2":{"field":"x2"},
            "detail":{"field":"s","type":"nominal"},
            "fill":{"field":"l","type":"nominal","scale":{"domain":["-0.02-0","0-0.02","0.02-0.04","0.04-0.06"],"range":["#dceaf6","#f9d8bc","#f3f3f3","#f9ee9e"]},"legend":{"orient":"none","legendX":37,"legendY":200,"rowPadding":44,"title":null}},
            "stroke":{"field":"c","type":"nominal","scale":{"domain":["-0.02-0","0-0.02","0.02-0.04","0.04-0.06"],"range":["#5a7ea3","#c0804f","#8f8f8f","#cdb444"]},"legend":{"orient":"none","legendX":37,"legendY":200,"rowPadding":44,"title":null}}}},
          {"data":{"name":"c"},"transform":[{"filter":"datum.p==='L1' && datum.y2!=null"}],
           "mark":{"type":"area","orient":"vertical","clip":true,"strokeWidth":1,"interpolate":"monotone"},
           "encoding":{
            "x":{"field":"x","type":"quantitative","scale":{"domain":[0.01,0.5],"nice":false,"zero":false},"axis":null},
            "y":{"field":"y","type":"quantitative","stack":null,"scale":{"domain":[0.01,0.5],"nice":false,"zero":false},"axis":null},
            "y2":{"field":"y2"},
            "detail":{"field":"s","type":"nominal"},
            "fill":{"field":"l","type":"nominal","scale":{"domain":["-0.02-0","0-0.02","0.02-0.04","0.04-0.06"],"range":["#dceaf6","#f9d8bc","#f3f3f3","#f9ee9e"]},"legend":{"orient":"none","legendX":37,"legendY":200,"rowPadding":44,"title":null}},
            "stroke":{"field":"c","type":"nominal","scale":{"domain":["-0.02-0","0-0.02","0.02-0.04","0.04-0.06"],"range":["#5a7ea3","#c0804f","#8f8f8f","#cdb444"]},"legend":{"orient":"none","legendX":37,"legendY":200,"rowPadding":44,"title":null}}}},
          {"data":{"name":"g"},"mark":{"type":"rule","color":"#a9b5c1","strokeWidth":1.5,"blend":"multiply"},
           "encoding":{"x":{"field":"g","type":"quantitative","scale":{"domain":[0.01,0.5],"nice":false,"zero":false},"axis":{"tickCount":50,"labels":false,"ticks":true,"tickSize":4,"tickColor":"#c6c6c6","title":null}}}},
          {"data":{"name":"g"},"mark":{"type":"rule","color":"#a9b5c1","strokeWidth":1.5,"blend":"multiply"},
           "encoding":{"y":{"field":"g","type":"quantitative","scale":{"domain":[0.01,0.5],"nice":false,"zero":false},"axis":{"orient":"right","tickCount":50,"labels":false,"ticks":true,"tickSize":4,"tickColor":"#c6c6c6","title":null}}}}
         ]},
        {"width":358,"height":352,"view":{"fill":"#dceaf6","stroke":null},
         "resolve":{"axis":{"x":"independent","y":"independent"}},
         "layer":[
          {"data":{"name":"c"},"transform":[{"filter":"datum.p==='L2' && datum.x2!=null"}],
           "mark":{"type":"area","orient":"horizontal","clip":true,"strokeWidth":1,"interpolate":"monotone"},
           "encoding":{
            "y":{"field":"y","type":"quantitative","stack":null,"scale":{"domain":[0.01,0.5],"nice":false,"zero":false},"axis":{"orient":"right","values":[0.01,0.09,0.17,0.25,0.33,0.41,0.49],"format":".2f","labelPadding":8,"title":null}},
            "x":{"field":"x","type":"quantitative","stack":null,"scale":{"domain":[0.01,0.5],"nice":false,"zero":false},"axis":{"values":[0.01,0.09,0.17,0.25,0.33,0.41,0.49],"format":".2f","labelPadding":14,"title":null}},
            "x2":{"field":"x2"},
            "detail":{"field":"s","type":"nominal"},
            "fill":{"field":"l","type":"nominal","scale":{"domain":["-0.02-0","0-0.02","0.02-0.04","0.04-0.06"],"range":["#dceaf6","#f9d8bc","#f3f3f3","#f9ee9e"]},"legend":{"orient":"none","legendX":37,"legendY":200,"rowPadding":44,"title":null}},
            "stroke":{"field":"c","type":"nominal","scale":{"domain":["-0.02-0","0-0.02","0.02-0.04","0.04-0.06"],"range":["#5a7ea3","#c0804f","#8f8f8f","#cdb444"]},"legend":{"orient":"none","legendX":37,"legendY":200,"rowPadding":44,"title":null}}}},
          {"data":{"name":"c"},"transform":[{"filter":"datum.p==='L2' && datum.y2!=null"}],
           "mark":{"type":"area","orient":"vertical","clip":true,"strokeWidth":1,"interpolate":"monotone"},
           "encoding":{
            "x":{"field":"x","type":"quantitative","scale":{"domain":[0.01,0.5],"nice":false,"zero":false},"axis":null},
            "y":{"field":"y","type":"quantitative","stack":null,"scale":{"domain":[0.01,0.5],"nice":false,"zero":false},"axis":null},
            "y2":{"field":"y2"},
            "detail":{"field":"s","type":"nominal"},
            "fill":{"field":"l","type":"nominal","scale":{"domain":["-0.02-0","0-0.02","0.02-0.04","0.04-0.06"],"range":["#dceaf6","#f9d8bc","#f3f3f3","#f9ee9e"]},"legend":{"orient":"none","legendX":37,"legendY":200,"rowPadding":44,"title":null}},
            "stroke":{"field":"c","type":"nominal","scale":{"domain":["-0.02-0","0-0.02","0.02-0.04","0.04-0.06"],"range":["#5a7ea3","#c0804f","#8f8f8f","#cdb444"]},"legend":{"orient":"none","legendX":37,"legendY":200,"rowPadding":44,"title":null}}}},
          {"data":{"name":"g"},"mark":{"type":"rule","color":"#a9b5c1","strokeWidth":1.5,"blend":"multiply"},
           "encoding":{"x":{"field":"g","type":"quantitative","scale":{"domain":[0.01,0.5],"nice":false,"zero":false},"axis":{"tickCount":50,"labels":false,"ticks":true,"tickSize":4,"tickColor":"#c6c6c6","title":null}}}},
          {"data":{"name":"g"},"mark":{"type":"rule","color":"#a9b5c1","strokeWidth":1.5,"blend":"multiply"},
           "encoding":{"y":{"field":"g","type":"quantitative","scale":{"domain":[0.01,0.5],"nice":false,"zero":false},"axis":{"orient":"right","tickCount":50,"labels":false,"ticks":true,"tickSize":4,"tickColor":"#c6c6c6","title":null}}}}
         ]},
        {"width":358,"height":357,"view":{"fill":"#dceaf6","stroke":null},
         "resolve":{"axis":{"x":"independent","y":"independent"}},
         "layer":[
          {"data":{"name":"c"},"transform":[{"filter":"datum.p==='L3' && datum.x2!=null"}],
           "mark":{"type":"area","orient":"horizontal","clip":true,"strokeWidth":1,"interpolate":"monotone"},
           "encoding":{
            "y":{"field":"y","type":"quantitative","stack":null,"scale":{"domain":[0.01,0.5],"nice":false,"zero":false},"axis":{"orient":"right","values":[0.01,0.09,0.17,0.25,0.33,0.41,0.49],"format":".2f","labelPadding":8,"title":null}},
            "x":{"field":"x","type":"quantitative","stack":null,"scale":{"domain":[0.01,0.5],"nice":false,"zero":false},"axis":{"values":[0.01,0.09,0.17,0.25,0.33,0.41,0.49],"format":".2f","labelPadding":14,"title":null}},
            "x2":{"field":"x2"},
            "detail":{"field":"s","type":"nominal"},
            "fill":{"field":"l","type":"nominal","scale":{"domain":["-0.02-0","0-0.02","0.02-0.04","0.04-0.06"],"range":["#dceaf6","#f9d8bc","#f3f3f3","#f9ee9e"]},"legend":{"orient":"none","legendX":37,"legendY":200,"rowPadding":44,"title":null}},
            "stroke":{"field":"c","type":"nominal","scale":{"domain":["-0.02-0","0-0.02","0.02-0.04","0.04-0.06"],"range":["#5a7ea3","#c0804f","#8f8f8f","#cdb444"]},"legend":{"orient":"none","legendX":37,"legendY":200,"rowPadding":44,"title":null}}}},
          {"data":{"name":"c"},"transform":[{"filter":"datum.p==='L3' && datum.y2!=null"}],
           "mark":{"type":"area","orient":"vertical","clip":true,"strokeWidth":1,"interpolate":"monotone"},
           "encoding":{
            "x":{"field":"x","type":"quantitative","scale":{"domain":[0.01,0.5],"nice":false,"zero":false},"axis":null},
            "y":{"field":"y","type":"quantitative","stack":null,"scale":{"domain":[0.01,0.5],"nice":false,"zero":false},"axis":null},
            "y2":{"field":"y2"},
            "detail":{"field":"s","type":"nominal"},
            "fill":{"field":"l","type":"nominal","scale":{"domain":["-0.02-0","0-0.02","0.02-0.04","0.04-0.06"],"range":["#dceaf6","#f9d8bc","#f3f3f3","#f9ee9e"]},"legend":{"orient":"none","legendX":37,"legendY":200,"rowPadding":44,"title":null}},
            "stroke":{"field":"c","type":"nominal","scale":{"domain":["-0.02-0","0-0.02","0.02-0.04","0.04-0.06"],"range":["#5a7ea3","#c0804f","#8f8f8f","#cdb444"]},"legend":{"orient":"none","legendX":37,"legendY":200,"rowPadding":44,"title":null}}}},
          {"data":{"name":"g"},"mark":{"type":"rule","color":"#a9b5c1","strokeWidth":1.5,"blend":"multiply"},
           "encoding":{"x":{"field":"g","type":"quantitative","scale":{"domain":[0.01,0.5],"nice":false,"zero":false},"axis":{"tickCount":50,"labels":false,"ticks":true,"tickSize":4,"tickColor":"#c6c6c6","title":null}}}},
          {"data":{"name":"g"},"mark":{"type":"rule","color":"#a9b5c1","strokeWidth":1.5,"blend":"multiply"},
           "encoding":{"y":{"field":"g","type":"quantitative","scale":{"domain":[0.01,0.5],"nice":false,"zero":false},"axis":{"orient":"right","tickCount":50,"labels":false,"ticks":true,"tickSize":4,"tickColor":"#c6c6c6","title":null}}}}
         ]}
       ]}
     ]}
   ]},
   {"width":610,"height":1,"view":{"fill":"#404040","stroke":null},"data":{"values":[]},"mark":"point"}
  ]},
 {"width":1,"height":1226,"view":{"fill":"#404040","stroke":null},"data":{"values":[]},"mark":"point"},
 {"spacing":0,
  "vconcat":[
   {"width":596,"height":1,"view":{"fill":"#404040","stroke":null},"data":{"values":[]},"mark":"point"},
   {"spacing":0,"hconcat":[
     {"width":22,"height":1224,"data":{"values":[]},"mark":"point"},
     {"spacing":0,"vconcat":[
       {"width":1,"height":9,"data":{"values":[]},"mark":"point"},
       {"spacing":22,"vconcat":[
        {"width":357,"height":353,"view":{"fill":"#dceaf6","stroke":null},
         "resolve":{"axis":{"x":"independent","y":"independent"}},
         "layer":[
          {"data":{"name":"c"},"transform":[{"filter":"datum.p==='R1' && datum.x2!=null"}],
           "mark":{"type":"area","orient":"horizontal","clip":true,"strokeWidth":1,"interpolate":"monotone"},
           "encoding":{
            "y":{"field":"y","type":"quantitative","stack":null,"scale":{"domain":[0.01,0.5],"nice":false,"zero":false},"axis":{"orient":"right","values":[0.01,0.09,0.17,0.25,0.33,0.41,0.49],"format":".2f","labelPadding":3,"title":null}},
            "x":{"field":"x","type":"quantitative","stack":null,"scale":{"domain":[0.01,0.5],"nice":false,"zero":false},"axis":{"values":[0.01,0.09,0.17,0.25,0.33,0.41,0.49],"format":".2f","labelPadding":14,"title":null}},
            "x2":{"field":"x2"},
            "detail":{"field":"s","type":"nominal"},
            "fill":{"field":"l","type":"nominal","scale":{"domain":["-0.05-0","0-0.05","0.05-0.1","0.1-0.15","0.15-0.2","0.2-0.25"],"range":["#dceaf6","#f9d8bc","#f3f3f3","#f9ee9e","#cbdbeb","#d8eccd"]},"legend":{"orient":"none","legendX":505,"legendY":188,"rowPadding":23,"title":null}},
            "stroke":{"field":"c","type":"nominal","scale":{"domain":["-0.05-0","0-0.05","0.05-0.1","0.1-0.15","0.15-0.2","0.2-0.25"],"range":["#5a7ea3","#c0804f","#8f8f8f","#cdb444","#2c4a6e","#5d9c48"]},"legend":{"orient":"none","legendX":505,"legendY":188,"rowPadding":23,"title":null}}}},
          {"data":{"name":"c"},"transform":[{"filter":"datum.p==='R1' && datum.y2!=null"}],
           "mark":{"type":"area","orient":"vertical","clip":true,"strokeWidth":1,"interpolate":"monotone"},
           "encoding":{
            "x":{"field":"x","type":"quantitative","scale":{"domain":[0.01,0.5],"nice":false,"zero":false},"axis":null},
            "y":{"field":"y","type":"quantitative","stack":null,"scale":{"domain":[0.01,0.5],"nice":false,"zero":false},"axis":null},
            "y2":{"field":"y2"},
            "detail":{"field":"s","type":"nominal"},
            "fill":{"field":"l","type":"nominal","scale":{"domain":["-0.05-0","0-0.05","0.05-0.1","0.1-0.15","0.15-0.2","0.2-0.25"],"range":["#dceaf6","#f9d8bc","#f3f3f3","#f9ee9e","#cbdbeb","#d8eccd"]},"legend":{"orient":"none","legendX":505,"legendY":188,"rowPadding":23,"title":null}},
            "stroke":{"field":"c","type":"nominal","scale":{"domain":["-0.05-0","0-0.05","0.05-0.1","0.1-0.15","0.15-0.2","0.2-0.25"],"range":["#5a7ea3","#c0804f","#8f8f8f","#cdb444","#2c4a6e","#5d9c48"]},"legend":{"orient":"none","legendX":505,"legendY":188,"rowPadding":23,"title":null}}}},
          {"data":{"name":"g"},"mark":{"type":"rule","color":"#a9b5c1","strokeWidth":1.5,"blend":"multiply"},
           "encoding":{"x":{"field":"g","type":"quantitative","scale":{"domain":[0.01,0.5],"nice":false,"zero":false},"axis":{"tickCount":50,"labels":false,"ticks":true,"tickSize":4,"tickColor":"#c6c6c6","title":null}}}},
          {"data":{"name":"g"},"mark":{"type":"rule","color":"#a9b5c1","strokeWidth":1.5,"blend":"multiply"},
           "encoding":{"y":{"field":"g","type":"quantitative","scale":{"domain":[0.01,0.5],"nice":false,"zero":false},"axis":{"orient":"right","tickCount":50,"labels":false,"ticks":true,"tickSize":4,"tickColor":"#c6c6c6","title":null}}}}
         ]},
        {"spacing":15,"vconcat":[
        {"width":357,"height":358,"view":{"fill":"#dceaf6","stroke":null},
         "resolve":{"axis":{"x":"independent","y":"independent"}},
         "layer":[
          {"data":{"name":"c"},"transform":[{"filter":"datum.p==='R2' && datum.x2!=null"}],
           "mark":{"type":"area","orient":"horizontal","clip":true,"strokeWidth":1,"interpolate":"monotone"},
           "encoding":{
            "y":{"field":"y","type":"quantitative","stack":null,"scale":{"domain":[0.01,0.5],"nice":false,"zero":false},"axis":{"orient":"right","values":[0.01,0.09,0.17,0.25,0.33,0.41,0.49],"format":".2f","labelPadding":3,"title":null}},
            "x":{"field":"x","type":"quantitative","stack":null,"scale":{"domain":[0.01,0.5],"nice":false,"zero":false},"axis":{"values":[0.01,0.09,0.17,0.25,0.33,0.41,0.49],"format":".2f","labelPadding":14,"title":null}},
            "x2":{"field":"x2"},
            "detail":{"field":"s","type":"nominal"},
            "fill":{"field":"l","type":"nominal","scale":{"domain":["-0.05-0","0-0.05","0.05-0.1","0.1-0.15","0.15-0.2","0.2-0.25"],"range":["#dceaf6","#f9d8bc","#f3f3f3","#f9ee9e","#cbdbeb","#d8eccd"]},"legend":{"orient":"none","legendX":505,"legendY":188,"rowPadding":23,"title":null}},
            "stroke":{"field":"c","type":"nominal","scale":{"domain":["-0.05-0","0-0.05","0.05-0.1","0.1-0.15","0.15-0.2","0.2-0.25"],"range":["#5a7ea3","#c0804f","#8f8f8f","#cdb444","#2c4a6e","#5d9c48"]},"legend":{"orient":"none","legendX":505,"legendY":188,"rowPadding":23,"title":null}}}},
          {"data":{"name":"c"},"transform":[{"filter":"datum.p==='R2' && datum.y2!=null"}],
           "mark":{"type":"area","orient":"vertical","clip":true,"strokeWidth":1,"interpolate":"monotone"},
           "encoding":{
            "x":{"field":"x","type":"quantitative","scale":{"domain":[0.01,0.5],"nice":false,"zero":false},"axis":null},
            "y":{"field":"y","type":"quantitative","stack":null,"scale":{"domain":[0.01,0.5],"nice":false,"zero":false},"axis":null},
            "y2":{"field":"y2"},
            "detail":{"field":"s","type":"nominal"},
            "fill":{"field":"l","type":"nominal","scale":{"domain":["-0.05-0","0-0.05","0.05-0.1","0.1-0.15","0.15-0.2","0.2-0.25"],"range":["#dceaf6","#f9d8bc","#f3f3f3","#f9ee9e","#cbdbeb","#d8eccd"]},"legend":{"orient":"none","legendX":505,"legendY":188,"rowPadding":23,"title":null}},
            "stroke":{"field":"c","type":"nominal","scale":{"domain":["-0.05-0","0-0.05","0.05-0.1","0.1-0.15","0.15-0.2","0.2-0.25"],"range":["#5a7ea3","#c0804f","#8f8f8f","#cdb444","#2c4a6e","#5d9c48"]},"legend":{"orient":"none","legendX":505,"legendY":188,"rowPadding":23,"title":null}}}},
          {"data":{"name":"g"},"mark":{"type":"rule","color":"#a9b5c1","strokeWidth":1.5,"blend":"multiply"},
           "encoding":{"x":{"field":"g","type":"quantitative","scale":{"domain":[0.01,0.5],"nice":false,"zero":false},"axis":{"tickCount":50,"labels":false,"ticks":true,"tickSize":4,"tickColor":"#c6c6c6","title":null}}}},
          {"data":{"name":"g"},"mark":{"type":"rule","color":"#a9b5c1","strokeWidth":1.5,"blend":"multiply"},
           "encoding":{"y":{"field":"g","type":"quantitative","scale":{"domain":[0.01,0.5],"nice":false,"zero":false},"axis":{"orient":"right","tickCount":50,"labels":false,"ticks":true,"tickSize":4,"tickColor":"#c6c6c6","title":null}}}}
         ]},
        {"width":357,"height":355,"view":{"fill":"#dceaf6","stroke":null},
         "resolve":{"axis":{"x":"independent","y":"independent"}},
         "layer":[
          {"data":{"name":"c"},"transform":[{"filter":"datum.p==='R3' && datum.x2!=null"}],
           "mark":{"type":"area","orient":"horizontal","clip":true,"strokeWidth":1,"interpolate":"monotone"},
           "encoding":{
            "y":{"field":"y","type":"quantitative","stack":null,"scale":{"domain":[0.01,0.5],"nice":false,"zero":false},"axis":{"orient":"right","values":[0.01,0.09,0.17,0.25,0.33,0.41,0.49],"format":".2f","labelPadding":3,"title":null}},
            "x":{"field":"x","type":"quantitative","stack":null,"scale":{"domain":[0.01,0.5],"nice":false,"zero":false},"axis":{"values":[0.01,0.09,0.17,0.25,0.33,0.41,0.49],"format":".2f","labelPadding":14,"title":null}},
            "x2":{"field":"x2"},
            "detail":{"field":"s","type":"nominal"},
            "fill":{"field":"l","type":"nominal","scale":{"domain":["-0.05-0","0-0.05","0.05-0.1","0.1-0.15","0.15-0.2","0.2-0.25"],"range":["#dceaf6","#f9d8bc","#f3f3f3","#f9ee9e","#cbdbeb","#d8eccd"]},"legend":{"orient":"none","legendX":505,"legendY":188,"rowPadding":23,"title":null}},
            "stroke":{"field":"c","type":"nominal","scale":{"domain":["-0.05-0","0-0.05","0.05-0.1","0.1-0.15","0.15-0.2","0.2-0.25"],"range":["#5a7ea3","#c0804f","#8f8f8f","#cdb444","#2c4a6e","#5d9c48"]},"legend":{"orient":"none","legendX":505,"legendY":188,"rowPadding":23,"title":null}}}},
          {"data":{"name":"c"},"transform":[{"filter":"datum.p==='R3' && datum.y2!=null"}],
           "mark":{"type":"area","orient":"vertical","clip":true,"strokeWidth":1,"interpolate":"monotone"},
           "encoding":{
            "x":{"field":"x","type":"quantitative","scale":{"domain":[0.01,0.5],"nice":false,"zero":false},"axis":null},
            "y":{"field":"y","type":"quantitative","stack":null,"scale":{"domain":[0.01,0.5],"nice":false,"zero":false},"axis":null},
            "y2":{"field":"y2"},
            "detail":{"field":"s","type":"nominal"},
            "fill":{"field":"l","type":"nominal","scale":{"domain":["-0.05-0","0-0.05","0.05-0.1","0.1-0.15","0.15-0.2","0.2-0.25"],"range":["#dceaf6","#f9d8bc","#f3f3f3","#f9ee9e","#cbdbeb","#d8eccd"]},"legend":{"orient":"none","legendX":505,"legendY":188,"rowPadding":23,"title":null}},
            "stroke":{"field":"c","type":"nominal","scale":{"domain":["-0.05-0","0-0.05","0.05-0.1","0.1-0.15","0.15-0.2","0.2-0.25"],"range":["#5a7ea3","#c0804f","#8f8f8f","#cdb444","#2c4a6e","#5d9c48"]},"legend":{"orient":"none","legendX":505,"legendY":188,"rowPadding":23,"title":null}}}},
          {"data":{"name":"g"},"mark":{"type":"rule","color":"#a9b5c1","strokeWidth":1.5,"blend":"multiply"},
           "encoding":{"x":{"field":"g","type":"quantitative","scale":{"domain":[0.01,0.5],"nice":false,"zero":false},"axis":{"tickCount":50,"labels":false,"ticks":true,"tickSize":4,"tickColor":"#c6c6c6","title":null}}}},
          {"data":{"name":"g"},"mark":{"type":"rule","color":"#a9b5c1","strokeWidth":1.5,"blend":"multiply"},
           "encoding":{"y":{"field":"g","type":"quantitative","scale":{"domain":[0.01,0.5],"nice":false,"zero":false},"axis":{"orient":"right","tickCount":50,"labels":false,"ticks":true,"tickSize":4,"tickColor":"#c6c6c6","title":null}}}}
         ]}
        ]}
       ]}
     ]}
   ]},
   {"width":596,"height":1,"view":{"fill":"#404040","stroke":null},"data":{"values":[]},"mark":"point"}
  ]},
 {"width":1,"height":1226,"view":{"fill":"#404040","stroke":null},"data":{"values":[]},"mark":"point"}
]}
]
}
